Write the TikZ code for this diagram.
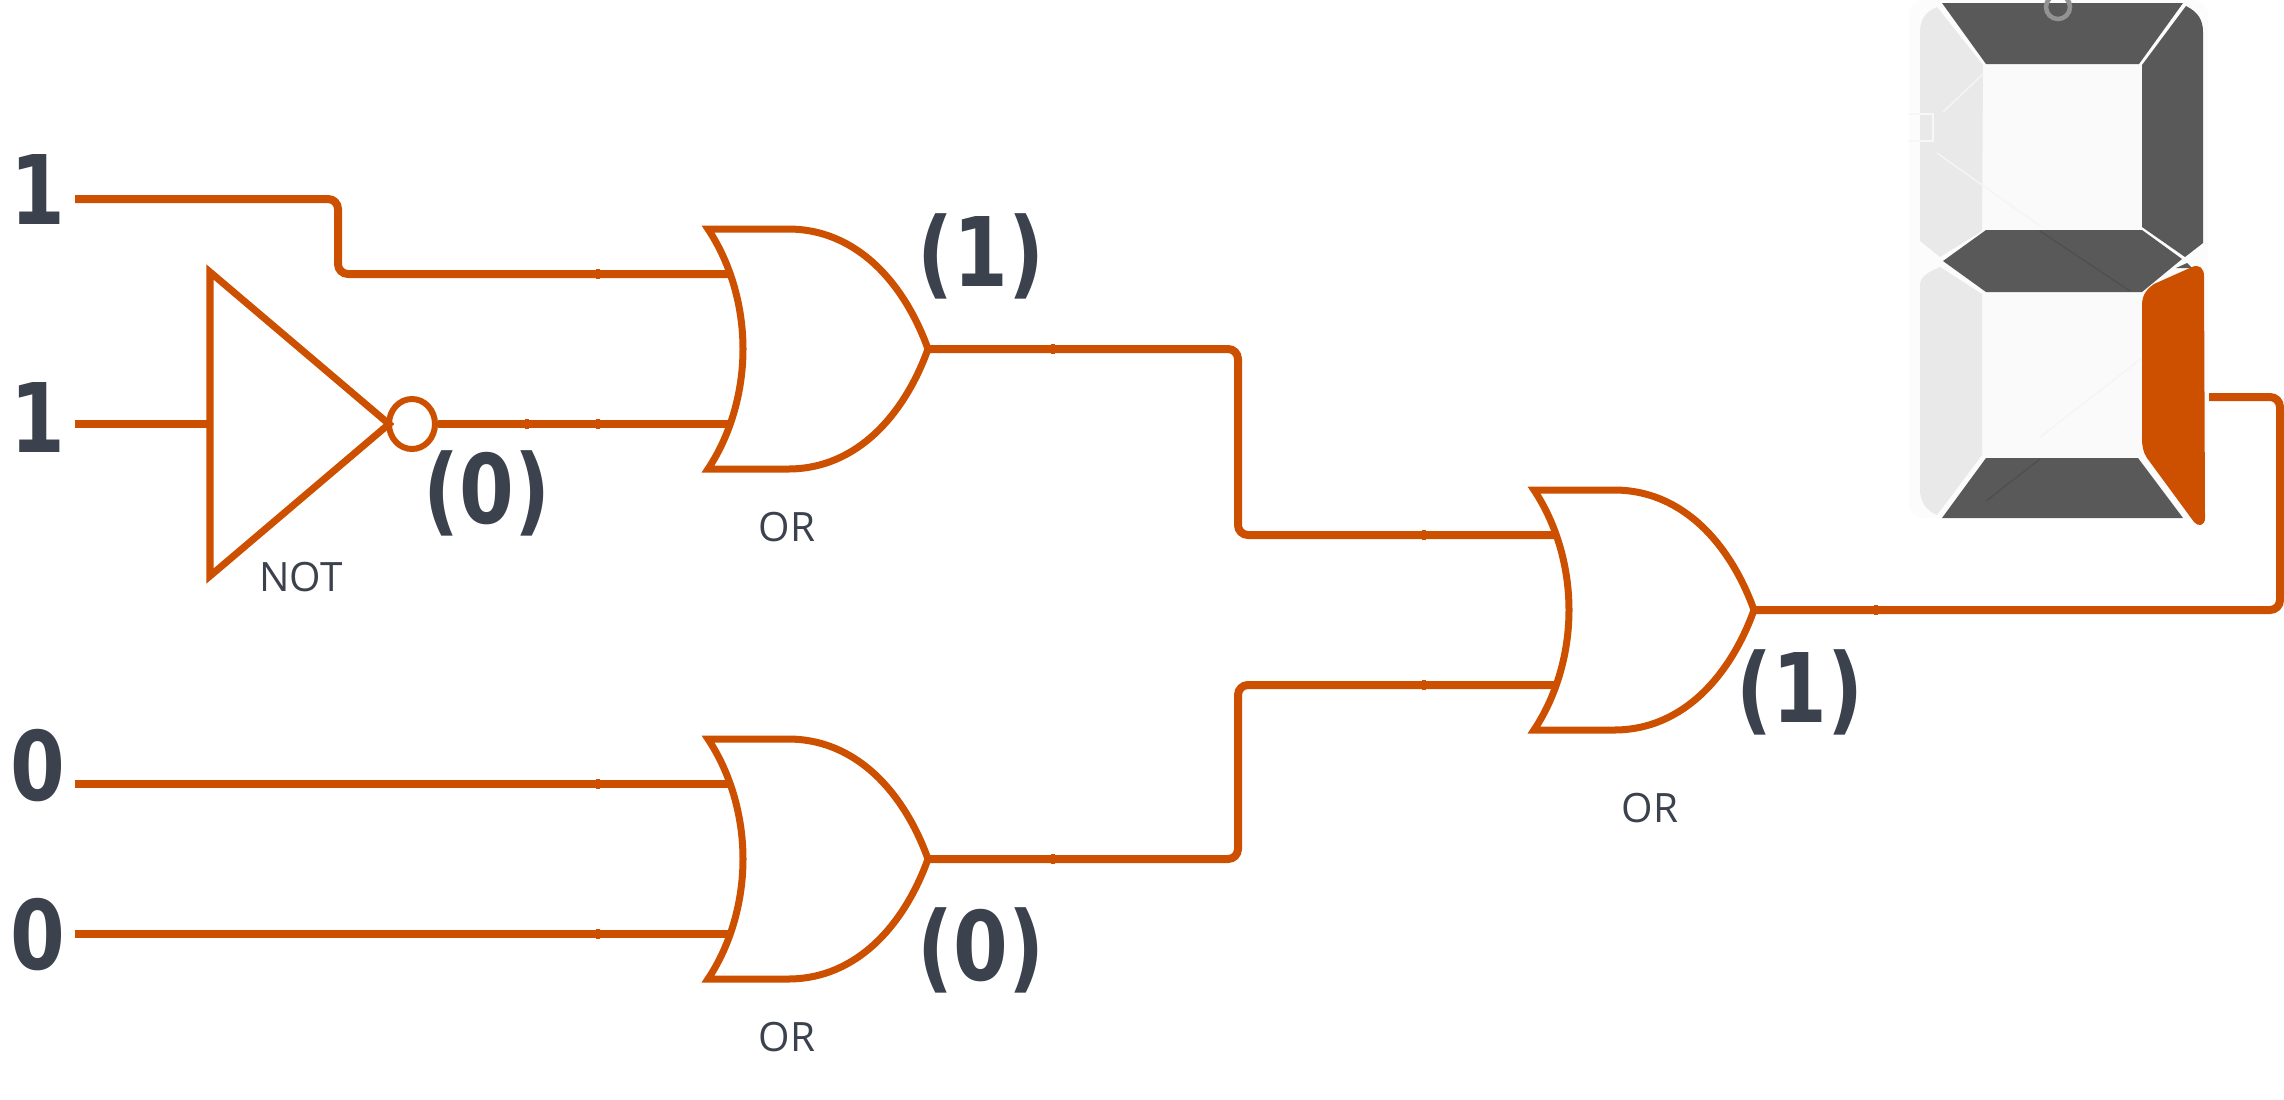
\documentclass[tikz,border=0pt]{standalone}
\usepackage{fontspec}
\usetikzlibrary{shapes.geometric}
\setmainfont{Open Sans}
\newfontfamily\bitfont[FakeStretch=0.82]{DejaVu Sans}
\definecolor{wirecol}{HTML}{CC5000}
\definecolor{textcol}{HTML}{3B424D}
\definecolor{segon}{HTML}{595959}
\definecolor{segoff}{HTML}{E9E9E9}
\definecolor{panelcol}{HTML}{FCFCFC}
\definecolor{windowcol}{HTML}{FAFAFA}
\tikzset{
  wire/.style={draw=wirecol,line width=0.08cm,rounded corners=0.1cm},
  gateline/.style={draw=wirecol,line width=0.07cm},
  bit/.style={text=textcol,inner sep=0pt,font=\bitfont\fontsize{27.3}{30}\bfseries\selectfont},
  gatename/.style={text=textcol,inner sep=0pt,font=\fontsize{11.5}{13}\selectfont},
  orgate/.pic={
    \draw[gateline] (0,0) -- (80,0) .. controls (150,0) and (197,56) .. (220,120)
      .. controls (197,184) and (150,240) .. (80,240) -- (0,240)
      .. controls (22,207) and (35,164) .. (35,120)
      .. controls (35,76) and (22,33) .. cycle;
    \coordinate (-in1) at (24,45);
    \coordinate (-in2) at (24,195);
    \coordinate (-out) at (220,120);
  }
}
\begin{document}
\begin{tikzpicture}[x=0.01cm,y=-0.01cm]
  \useasboundingbox (0,0) rectangle (2284,1099);

  % display
  \fill[panelcol,rounded corners=0.15cm] (1909,0) rectangle (2208,518);
  \fill[windowcol] (1982,64) rectangle (2142,458);
  \fill[segoff] (1983,65) -- (1982,231) -- (1940,257) -- (1920,241) -- (1920,32) .. controls (1920,20) and (1925,12) .. (1937,7) -- cycle;
  \fill[segoff] (1940,267) -- (1982,294) -- (1982,455) -- (1937,515) .. controls (1925,510) and (1920,500) .. (1920,490) -- (1920,285) .. controls (1920,277) and (1928,272) .. cycle;
  \draw[black!4,line width=0.015cm] (1943,112) -- (1983,74) (1937,153) -- (2040,226) (2142,358) -- (2040,437);
  \draw[black!3,line width=0.015cm] (1909,114) -| (1933,141) -- (1909,141);
  \fill[segon] (1942,3) -- (2183,3) -- (2139,64) -- (1986,64) -- cycle;
  \fill[segon] (2142,65) -- (2186,6) .. controls (2198,12) and (2203,20) .. (2203,32) -- (2203,243) -- (2185,257) -- (2142,227) -- cycle;
  \fill[segon] (1943,261) -- (1986,230) -- (2142,230) -- (2182,259) -- (2142,292) -- (1986,292) -- cycle;
  \fill[segon] (1986,458) -- (2138,458) -- (2183,518) -- (1942,518) -- cycle;
  \fill[segon] (2176,268) -- (2187,263) -- (2192,268) -- cycle;
  \draw[gray!85,line width=0.045cm] (2058,7) circle (12);
  \draw[segon!90!black,line width=0.015cm] (2040,231) -- (2130,291) (2040,459) -- (1986,501);
  \fill[wirecol] (2142,305) .. controls (2142,294) and (2148,288) .. (2154,284) -- (2192,267)
    .. controls (2199,264) and (2204,268) .. (2204,276) -- (2205,518)
    .. controls (2205,526) and (2198,527) .. (2194,522) -- (2147,458)
    .. controls (2143,452) and (2142,446) .. (2142,438) -- cycle;
  \coordinate (segE) at (2209,397);

  % gates
  \draw[gateline] (210,272) -- (389,424) -- (210,576) -- cycle;
  \node[draw=wirecol,line width=0.06cm,ellipse,minimum width=0.46cm,minimum height=0.5cm,inner sep=0pt] (bubble) at (412,424) {};
  \coordinate (notin) at (210,424);
  \pic (orA) at (708,229) {orgate};
  \pic (orB) at (708,739) {orgate};
  \pic (orC) at (1534,490) {orgate};

  % inputs
  \coordinate (inA) at (75,199);
  \coordinate (inB) at (75,424);
  \coordinate (inC) at (75,784);
  \coordinate (inD) at (75,934);

  \draw[wire] (inA) -- (338,199) -- (338,274) -- (orA-in1);
  \draw[wire] (inB) -- (notin);
  \draw[wire] (bubble) -- (orA-in2);
  \draw[wire] (inC) -- (orB-in1);
  \draw[wire] (inD) -- (orB-in2);
  \draw[wire] (orA-out) -- (1238,349) -- (1238,535) -- (orC-in1);
  \draw[wire] (orB-out) -- (1238,859) -- (1238,685) -- (orC-in2);
  \draw[wire] (orC-out) -- (2280,610) -- (2280,397) -- (segE);
  \foreach \x/\y in {598/274,598/424,527/424,598/784,598/934,1053/349,1053/859,1424/535,1424/685,1876/610}
    \fill[wirecol] (\x-2,\y-5) rectangle (\x+2,\y+5);

  % labels
  \node[bit] (bitA) at (38,189) {1};
  \node[bit] (bitB) at (38,417) {1};
  \node[bit] (bitC) at (38,766) {0};
  \node[bit] (bitD) at (38,935) {0};
  \node[bit] (resNot) at (487,493) {(0)};
  \node[bit] (resA) at (981,256) {(1)};
  \node[bit] (resB) at (981,950) {(0)};
  \node[bit] (resC) at (1800,692) {(1)};
  \node[gatename] (nameNot) at (301,577) {NOT};
  \node[gatename] (nameA) at (787,527) {OR};
  \node[gatename] (nameB) at (787,1037) {OR};
  \node[gatename] (nameC) at (1650,808) {OR};
\end{tikzpicture}
\end{document}
